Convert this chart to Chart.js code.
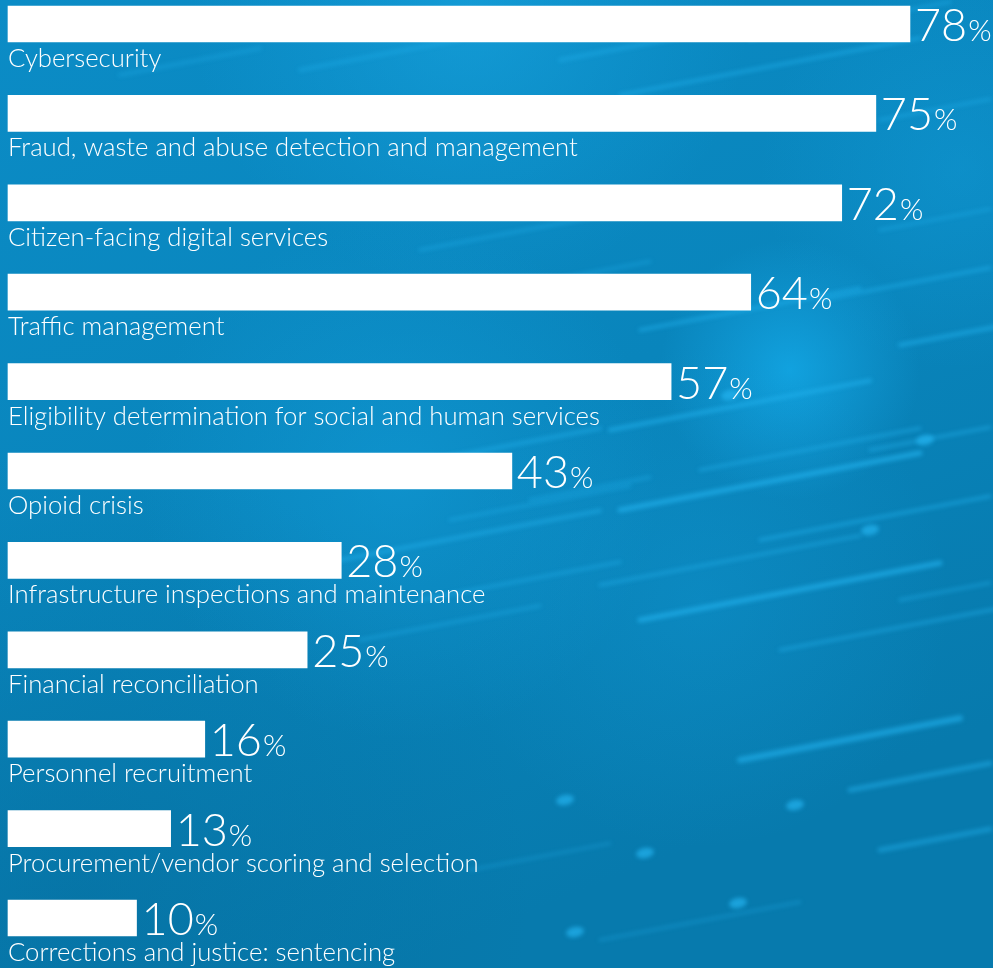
<!DOCTYPE html>
<html><head><meta charset="utf-8">
<script src="https://cdn.jsdelivr.net/npm/chart.js@4.4.1/dist/chart.umd.min.js"></script>
<style>html,body{margin:0;padding:0;background:#0a84ba;overflow:hidden}#c{display:block}</style>
</head><body>
<canvas id="c" width="993" height="968"></canvas>
<script>
const categories = [
  "Cybersecurity",
  "Fraud, waste and abuse detection and management",
  "Citizen-facing digital services",
  "Traffic management",
  "Eligibility determination for social and human services",
  "Opioid crisis",
  "Infrastructure inspections and maintenance",
  "Financial reconciliation",
  "Personnel recruitment",
  "Procurement/vendor scoring and selection",
  "Corrections and justice: sentencing"
];
const values = [78, 75, 72, 64, 57, 43, 28, 25, 16, 13, 10];
const valueSuffix = "%";
const axisMin = -1.3;
const axisMax = 85.3;

const FONT = "Lato, 'Source Sans Pro', 'Open Sans', sans-serif";

// decorative background streaks: [x, y, length, width, alpha]
const streaks = [
  [620,95,300,3,0.55],[560,60,180,4,0.4],[750,40,200,3,0.45],[880,120,110,3,0.45],
  [300,70,160,4,0.35],[120,75,140,4,0.3],
  [640,330,220,3,0.6],[820,300,170,3,0.55],[900,345,95,4,0.55],
  [610,430,260,4,0.6],[700,470,220,3,0.5],[870,450,120,3,0.5],
  [620,510,300,5,0.65],[760,540,230,3,0.55],[600,585,260,3,0.5],
  [640,620,300,5,0.65],[780,650,220,3,0.5],[900,600,90,3,0.45],
  [340,560,260,4,0.5],[420,600,200,3,0.45],[360,640,180,3,0.4],
  [380,470,220,4,0.45],[450,520,180,3,0.4],
  [740,760,220,6,0.6],[850,790,140,5,0.5],[880,850,110,5,0.45],
  [420,250,200,3,0.4],[500,290,150,3,0.35],[880,230,110,3,0.4],
  [530,500,120,3,0.4],[470,870,140,3,0.3],[600,940,200,3,0.3]
];
const dots = [[565,800],[645,853],[738,903],[575,932],[795,805],[870,530],[925,440],[730,395]];

const bgPlugin = {
  id: 'bg',
  beforeDraw(chart) {
    const {ctx, width: w, height: h} = chart;
    ctx.save();
    const g = ctx.createLinearGradient(0, 0, w * 0.4, h);
    g.addColorStop(0, '#0b8cc6');
    g.addColorStop(0.55, '#0985bc');
    g.addColorStop(1, '#077aad');
    ctx.fillStyle = g;
    ctx.fillRect(0, 0, w, h);
    const glows = [
      [470, 10, 280, 'rgba(30,175,235,0.45)'],
      [790, 370, 130, 'rgba(20,172,235,0.75)'],
      [400, 480, 260, 'rgba(22,165,228,0.4)'],
      [960, 170, 200, 'rgba(22,165,228,0.3)'],
      [700, 600, 250, 'rgba(22,165,228,0.25)']
    ];
    for (const [x, y, r, c] of glows) {
      const rg = ctx.createRadialGradient(x, y, 0, x, y, r);
      rg.addColorStop(0, c);
      rg.addColorStop(1, 'rgba(22,165,228,0)');
      ctx.fillStyle = rg;
      ctx.fillRect(0, 0, w, h);
    }
    const dk = ctx.createRadialGradient(80, 900, 0, 80, 900, 450);
    dk.addColorStop(0, 'rgba(4,100,145,0.35)');
    dk.addColorStop(1, 'rgba(4,100,145,0)');
    ctx.fillStyle = dk;
    ctx.fillRect(0, 0, w, h);
    ctx.filter = 'blur(2px)';
    ctx.lineCap = 'round';
    for (const [x, y, len, lw, a] of streaks) {
      ctx.strokeStyle = `rgba(35,180,240,${a})`;
      ctx.lineWidth = lw;
      ctx.beginPath();
      ctx.moveTo(x, y);
      ctx.lineTo(x + len, y - len * 0.19);
      ctx.stroke();
    }
    ctx.fillStyle = 'rgba(35,180,240,0.7)';
    for (const [x, y] of dots) {
      ctx.beginPath();
      ctx.ellipse(x, y, 9, 5, -0.2, 0, Math.PI * 2);
      ctx.fill();
    }
    ctx.filter = 'none';
    ctx.restore();
  }
};

const labelPlugin = {
  id: 'labels',
  afterDatasetsDraw(chart) {
    const {ctx} = chart;
    const meta = chart.getDatasetMeta(0);
    ctx.save();
    ctx.fillStyle = '#ffffff';
    ctx.textBaseline = 'alphabetic';
    ctx.textAlign = 'left';
    meta.data.forEach((bar, i) => {
      const bottom = bar.y + bar.height / 2;
      ctx.font = `300 25.7px ${FONT}`;
      ctx.fillText(categories[i], 8, bottom + 25);
      const num = String(values[i]);
      ctx.font = `300 45px ${FONT}`;
      const x0 = bar.x + 5;
      ctx.fillText(num, x0, bottom - 1);
      const nw = ctx.measureText(num).width;
      ctx.font = `300 30px ${FONT}`;
      ctx.fillText(valueSuffix, x0 + nw + 1, bottom - 1);
    });
    ctx.restore();
  }
};

new Chart(document.getElementById('c'), {
  type: 'bar',
  data: {
    labels: categories,
    datasets: [{
      data: values,
      backgroundColor: '#ffffff',
      borderWidth: 0,
      barThickness: 36,
      base: axisMin,
      clip: false
    }]
  },
  options: {
    indexAxis: 'y',
    responsive: false,
    animation: false,
    layout: {padding: {left: 8, right: 0, top: 24, bottom: 50}},
    plugins: {legend: {display: false}, tooltip: {enabled: false}},
    scales: {
      x: {type: 'linear', min: axisMin, max: axisMax, display: false},
      y: {type: 'category', display: false, offset: false}
    }
  },
  plugins: [bgPlugin, labelPlugin]
});
</script>
</body></html>
